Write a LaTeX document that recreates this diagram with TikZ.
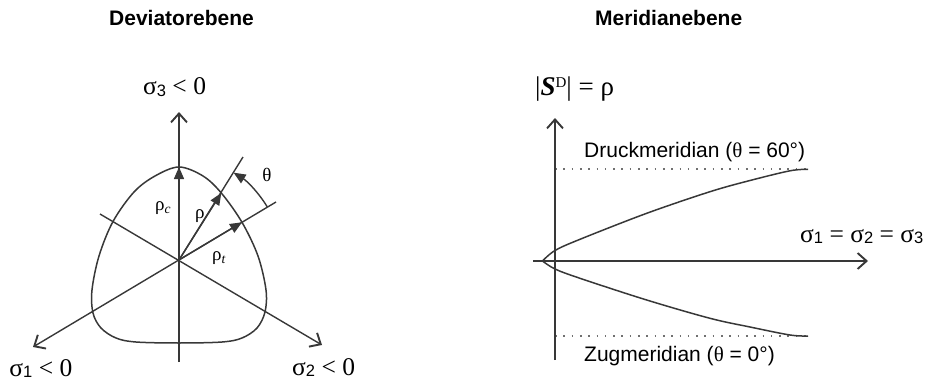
\documentclass[tikz,border=0pt]{standalone}
\usepackage{fontspec}
\setmainfont{Liberation Serif}
\setsansfont{Liberation Sans}
\usetikzlibrary{arrows.meta,calc}
\definecolor{ln}{HTML}{383838}
\definecolor{dotc}{HTML}{707070}
\newcommand{\dsub}[1]{\raisebox{-1.5pt}{\fontsize{16.5}{16}\selectfont\sffamily #1}}
\newcommand{\isub}[1]{\raisebox{-3pt}{\fontsize{13.5}{13}\selectfont\itshape #1}}
\tikzset{
  axisline/.style={draw=ln, line width=1.4pt, -{Straight Barb[length=9pt,width=16pt,line width=1.9pt]}},
  plainline/.style={draw=ln, line width=1.4pt},
  rhoarrow/.style={draw=ln, line width=1.4pt, -{Triangle[length=12pt,width=10pt]}},
  curveline/.style={draw=ln, line width=1.5pt},
  dotline/.style={draw=dotc, line width=1.8pt, dash pattern=on 1.6pt off 6.7pt},
  title/.style={inner sep=0pt, anchor=base west, font=\fontsize{21}{25}\selectfont\sffamily\bfseries},
  sanslab/.style={inner sep=0pt, anchor=base west, font=\fontsize{21}{25}\selectfont\sffamily},
  greeklab/.style={inner sep=0pt, anchor=base west, font=\fontsize{25.5}{28}\selectfont},
  rholab/.style={inner sep=0pt, anchor=base west, font=\fontsize{19}{22}\selectfont}
}
\begin{document}
\begin{tikzpicture}[x=1pt,y=-1pt]
\useasboundingbox (0,0) rectangle (935,380);
% ---------- Deviatorebene ----------
\coordinate (O) at (179,260);
\coordinate (A3) at (179,112);
\coordinate (A3b) at (179,362);
\coordinate (A1) at (33,347);
\coordinate (A1b) at (276,202);
\coordinate (A2) at (322,345);
\coordinate (A2b) at (100,214);
\coordinate (R) at (243,157);
\coordinate (Pc) at (179,167);
\coordinate (Pr) at (221.3,193);
\coordinate (Pt) at (242,222.3);

\draw[axisline] (A3b) -- (A3);
\draw[axisline] (A1b) -- (A1);
\draw[axisline] (A2b) -- (A2);
\draw[plainline] (O) -- (R);

\draw[curveline] plot[smooth cycle, tension=0.55] coordinates {
  (179,167) (203,176) (221.3,193) (242,222.3) (258,256) (266,290) (265,312)
  (257,328) (242,338) (222,342) (179,343) (136,342) (116,338) (101,328)
  (93,313) (92,290) (99,256) (113,221.5) (134,192) (155,176)};

\draw[rhoarrow] (O) -- (Pc);
\draw[rhoarrow] (O) -- (Pr);
\draw[rhoarrow] (O) -- (Pt);

\coordinate (T0) at ($(O)+(-31:103)$);
\draw[draw=ln, line width=1.4pt, -{Triangle[length=12pt,width=10pt]}]
  (T0) arc[start angle=-31, end angle=-58, radius=103];

\node[title] (t1) at (109,25) {Deviatorebene};
\node[greeklab] (s3) at (143,94.5) {σ\dsub{3} < 0};
\node[greeklab, anchor=base east] (s1) at (72.5,376) {σ\dsub{1} < 0};
\node[greeklab] (s2) at (292,375) {σ\dsub{2} < 0};
\node[rholab] (rc) at (155,210) {ρ\isub{c}};
\node[rholab] (rr) at (195,218) {ρ};
\node[rholab] (rt) at (212,260) {ρ\isub{t}};
\node[inner sep=0pt, font=\fontsize{19}{22}\selectfont] (th) at (267,175) {θ};

% ---------- Meridianebene ----------
\coordinate (V0) at (555,360);
\coordinate (V1) at (555,118);
\coordinate (H0) at (533,261);
\coordinate (H1) at (868,261);
\coordinate (D0) at (555,169);
\coordinate (D1) at (808,169);
\coordinate (Z0) at (555,336);
\coordinate (Z1) at (808,336);

\draw[dotline] (D0) -- (D1);
\draw[dotline] (Z0) -- (Z1);
\draw[axisline] (V0) -- (V1);
\draw[axisline] (H0) -- (H1);

\draw[curveline] plot[smooth, tension=0.55] coordinates {
  (542.5,261) (555,250.5) (580,239.3) (646.7,213.3) (710,191.7) (750,180.5) (790,170.8) (808,169.3)};
\draw[curveline] plot[smooth, tension=0.55] coordinates {
  (542.5,261) (555,269) (580,278.3) (646.7,300) (710,318.3) (750,327) (790,335) (808,336)};

\node[title] (t2) at (595,25) {Meridianebene};
\node[inner sep=0pt, anchor=base west, font=\fontsize{27}{30}\selectfont] (sd) at (535,95) {|\textbf{\textit{S}}\raisebox{8pt}{\fontsize{15}{15}\selectfont D}| = ρ};
\node[sanslab] (dm) at (584,157.5) {Druckmeridian ({\rmfamily θ} = 60°)};
\node[sanslab] (zm) at (584,361) {Zugmeridian ({\rmfamily θ} = 0°)};
\node[greeklab] (ss) at (800,242) {σ\dsub{1} = σ\dsub{2} = σ\dsub{3}};
\end{tikzpicture}
\end{document}
